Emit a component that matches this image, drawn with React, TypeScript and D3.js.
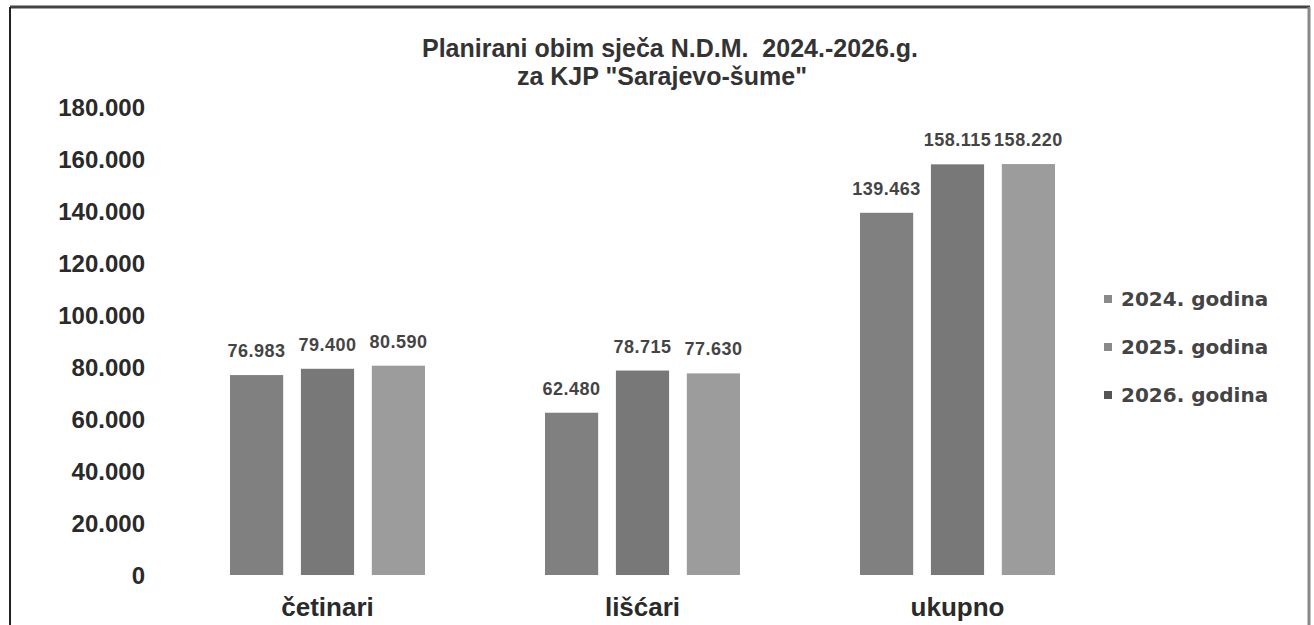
import * as d3 from "d3";

const categories = ["četinari", "lišćari", "ukupno"];
const seriesNames = ["2024. godina", "2025. godina", "2026. godina"];
const values2024 = [76983, 62480, 139463];
const values2025 = [79400, 78715, 158115];
const values2026 = [80590, 77630, 158220];
const yTicks = [0, 20000, 40000, 60000, 80000, 100000, 120000, 140000, 160000, 180000];

const seriesValues = [values2024, values2025, values2026];
const colors = ["#808080", "#787878", "#9c9c9c"];
const legendColors = ["#8a8a8a", "#8a8a8a", "#555555"];

const W = 1314;
const H = 625;

// format 76983 -> 76.983
const fmt = (v: number) => d3.format(",")(v).replace(/,/g, ".");

export default function App() {
  const x0 = d3.scaleBand<string>().domain(categories).range([170, 1115]);
  const mid = x0.bandwidth() / 2;
  const x1 = d3
    .scaleBand<string>()
    .domain(seriesNames)
    .range([mid - 97.5, mid + 97.5])
    .paddingInner(0.25);
  const y = d3.scaleLinear().domain([0, 180000]).range([575, 107.5]);

  return (
    <svg
      width={W}
      height={H}
      style={{ position: "absolute", left: 0, top: 0, background: "#fff" }}
    >
      <rect x={0} y={0} width={W} height={H} fill="#fff" />
      {/* frame */}
      <line x1={10} y1={7} x2={1310} y2={7} stroke="#444" strokeWidth={3} />
      <line x1={10} y1={7} x2={10} y2={H} stroke="#222" strokeWidth={2} />
      <line x1={1309} y1={7} x2={1309} y2={H} stroke="#888" strokeWidth={3} />

      {/* title */}
      <g
        fontFamily="'Liberation Sans', Arial, sans-serif"
        fontWeight="bold"
        fill="#333"
        textAnchor="middle"
        fontSize={25}
      >
        <text x={670} y={57}>{"Planirani obim sječa N.D.M.\u00a0 2024.-2026.g."}</text>
        <text x={662} y={85}>za KJP "Sarajevo-šume"</text>
      </g>

      {/* y axis labels */}
      <g fontFamily="'Liberation Sans', Arial, sans-serif" fontWeight="bold" fill="#2a2a2a" fontSize={24} textAnchor="end">
        {yTicks.map((t) => (
          <text key={t} x={145} y={y(t)} dy="0.36em">
            {fmt(t)}
          </text>
        ))}
      </g>

      {/* bars */}
      {categories.map((c, ci) => (
        <g key={c} transform={`translate(${x0(c)},0)`}>
          {seriesNames.map((s, si) => {
            const v = seriesValues[si][ci];
            return (
              <g key={s}>
                <rect
                  x={x1(s)}
                  y={y(v)}
                  width={x1.bandwidth()}
                  height={y(0) - y(v)}
                  fill={colors[si]}
                />
                <text
                  x={(x1(s) as number) + x1.bandwidth() / 2}
                  y={y(v) - 18}
                  textAnchor="middle"
                  fontFamily="'Liberation Sans', Arial, sans-serif"
                  fontWeight="bold"
                  fontSize={18}
                  letterSpacing={0.5}
                  fill="#444"
                >
                  {fmt(v)}
                </text>
              </g>
            );
          })}
          <text
            x={mid}
            y={616}
            textAnchor="middle"
            fontFamily="'Liberation Sans', Arial, sans-serif"
            fontWeight="bold"
            fontSize={26}
            fill="#2a2a2a"
          >
            {c}
          </text>
        </g>
      ))}

      {/* legend */}
      <g fontFamily="'DejaVu Sans', sans-serif" fontWeight="bold" fontSize={20} fill="#444">
        {seriesNames.map((s, i) => (
          <g key={s} transform={`translate(1104,${306 + i * 48})`}>
            <rect x={0} y={-11} width={8} height={8} fill={legendColors[i]} />
            <text x={17} y={0}>
              {s}
            </text>
          </g>
        ))}
      </g>
    </svg>
  );
}
